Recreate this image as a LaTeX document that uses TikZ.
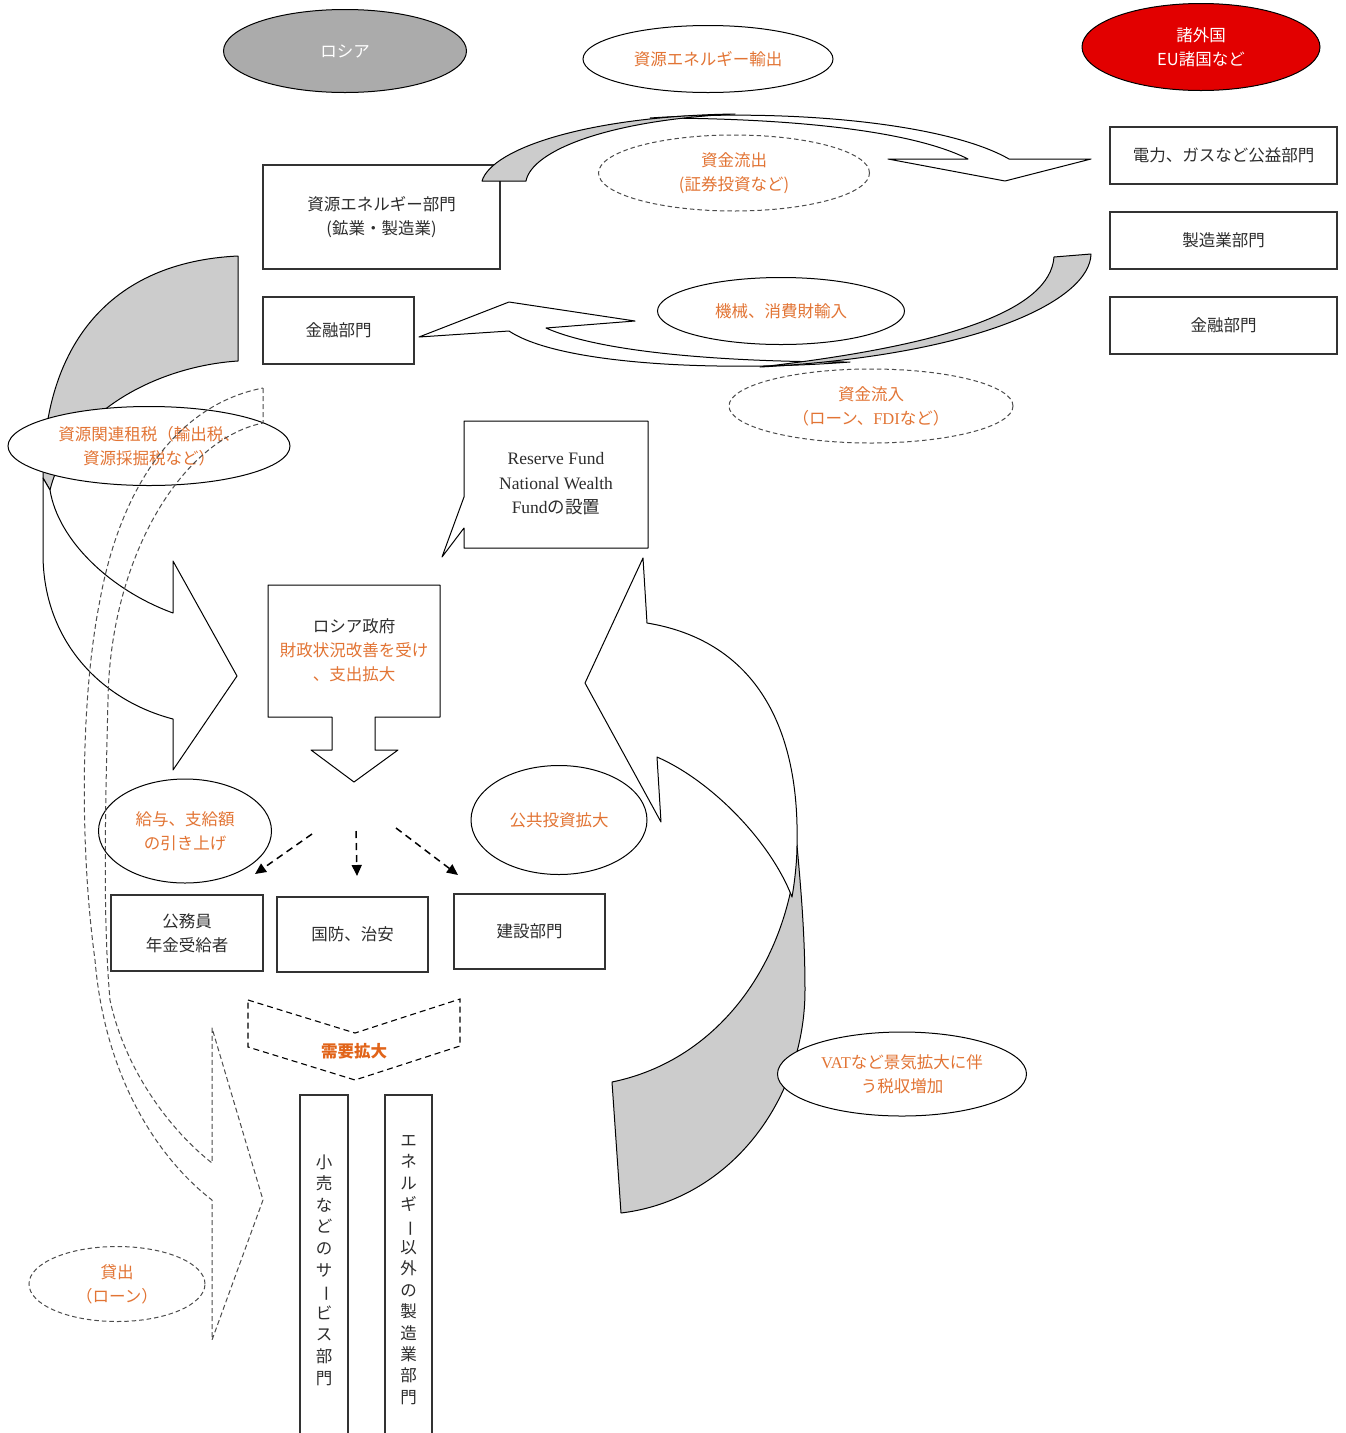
\documentclass[tikz,border=0pt]{standalone}
\usepackage{fontspec}
\usepackage{graphicx}
\setmainfont{Noto Sans CJK JP}
\newfontfamily\lat{Liberation Serif}
\usetikzlibrary{shapes.geometric,arrows.meta}
\definecolor{orng}{RGB}{226,116,52}
\definecolor{orngd}{RGB}{225,100,25}
\definecolor{txt}{RGB}{45,45,45}
\definecolor{gfill}{RGB}{204,204,204}
\definecolor{rusgray}{RGB}{171,171,171}
\definecolor{eured}{RGB}{226,0,0}
\newcommand\vbar{\rotatebox[origin=c]{-90}{ー}}
\begin{document}
\begin{tikzpicture}[x=1pt,y=-1pt,
  every node/.style={font=\fontsize{16.5}{24}\selectfont, text=txt},
  box/.style={draw=black!80, line width=1.1pt, fill=white, inner sep=0pt, align=center},
  ell/.style={ellipse, draw=black, line width=1pt, fill=white, inner sep=0pt, align=center},
  dell/.style={ellipse, draw=black!70, dash pattern=on 4.5pt off 3pt, line width=1pt, inner sep=0pt, align=center},
  ribbon/.style={draw=black, line width=1pt, line join=round},
  grib/.style={ribbon, fill=gfill},
  wrib/.style={ribbon, fill=white},
  dflow/.style={draw=black, line width=1.5pt, dash pattern=on 7pt off 5pt, -{Triangle[length=11pt,width=10pt]}},
  loanarrow/.style={draw=black!70, line width=1pt, dash pattern=on 5pt off 3pt, line join=round}]
\useasboundingbox (0,0) rectangle (1346,1433);
\fill[white] (0,0) rectangle (1346,1433);

% ---------- boxes ----------
\node[box, minimum width=237pt, minimum height=104pt] (res) at (381.5,217) {資源エネルギー部門\\(鉱業・製造業)};
\node[box, minimum width=151pt, minimum height=67pt] (finL) at (338.5,330.5) {金融部門};
\node[box, minimum width=227pt, minimum height=57pt] (util) at (1223.5,155.5) {電力、ガスなど公益部門};
\node[box, minimum width=227pt, minimum height=57pt] (manu) at (1223.5,240.5) {製造業部門};
\node[box, minimum width=227pt, minimum height=57pt] (finR) at (1223.5,325.5) {金融部門};
\node[box, minimum width=152pt, minimum height=76pt] (kou) at (187,933) {公務員\\年金受給者};
\node[box, minimum width=151pt, minimum height=75pt] (kok) at (352.5,934.5) {国防、治安};
\node[box, minimum width=151pt, minimum height=75pt] (ken) at (529.5,931.5) {建設部門};
\node[box, minimum width=48pt, minimum height=350pt, font=\fontsize{16.5}{21.6}\selectfont] (ret) at (324,1270)
  {小\\売\\な\\ど\\の\\サ\\\vbar\\ビ\\ス\\部\\門};
\node[box, minimum width=47pt, minimum height=350pt, font=\fontsize{16.5}{21.4}\selectfont] (ene) at (408.5,1270)
  {エ\\ネ\\ル\\ギ\\\vbar\\以\\外\\の\\製\\造\\業\\部\\門};

% ---------- callouts ----------
\draw[wrib] (464,421) -- (648,421) -- (648,548) -- (464,548) -- (464,528) -- (442,557) -- (464,497) -- cycle;
\node[align=center, font={\lat\fontsize{17.5}{24.5}\selectfont}] (rf) at (556,484) {Reserve Fund\\National Wealth\\Fund{\normalfont の設置}};
\draw[wrib] (268,585) -- (440,585) -- (440,717) -- (375,717) -- (375,750) -- (398,750) -- (354,782) -- (311,750) -- (332,750) -- (332,717) -- (268,717) -- cycle;
\node[align=center] (gov) at (354,650) {ロシア政府\\\textcolor{orng}{財政状況改善を受け}\\\textcolor{orng}{、支出拡大}};

% ---------- top arrow (export) ----------
\draw[wrib] (650,118) .. controls (800,108) and (950,125) .. (1009,159) -- (1091,159) -- (1005,181) -- (888,159) -- (968,159)
  .. controls (915,132) and (800,118) .. (650,118) -- cycle;
\draw[grib] (482,181) .. controls (492,148) and (590,116) .. (735,114) .. controls (610,120) and (532,150) .. (526,181) -- cycle;

% ---------- bottom arrow (import) ----------
\draw[wrib] (419,337) -- (509,302) -- (635,321) -- (546,328) .. controls (600,352) and (720,362) .. (850,362)
  .. controls (720,372) and (560,365) .. (509,331) -- cycle;
\draw[grib] (1054,257) -- (1091,254) .. controls (1090,300) and (980,355) .. (760,367) .. controls (950,345) and (1050,310) .. (1054,257) -- cycle;

% ---------- left big arrow (tax) ----------
\draw[grib] (238,256) -- (238,361) .. controls (160,366) and (70,410) .. (50,490) -- (43,478) .. controls (43,345) and (110,262) .. (238,256) -- cycle;
\draw[wrib] (43,478) -- (43,554) .. controls (43,640) and (100,700) .. (173,719) -- (173,770) -- (237,676) -- (173,561) -- (173,613)
  .. controls (110,590) and (58,540) .. (50,490) -- cycle;

% ---------- right big arrow (VAT) ----------
\draw[grib] (612,1082) -- (621,1213) .. controls (730,1200) and (805,1100) .. (805,990) .. controls (805,930) and (800,880) .. (797,845)
  .. controls (790,960) and (720,1060) .. (612,1082) -- cycle;
\draw[wrib] (647,623) -- (643,558) -- (585,683) -- (661,822) -- (657,757) .. controls (710,780) and (770,840) .. (792,897)
  .. controls (795,880) and (797,860) .. (797,845)
  .. controls (800,720) and (750,640) .. (647,623) -- cycle;

% ---------- ellipses ----------
\node[ell, fill=rusgray, minimum width=243pt, minimum height=83pt, text=white] (rus) at (345,51) {ロシア};
\node[ell, minimum width=250pt, minimum height=67pt, text=orng] (exp) at (708,59) {資源エネルギー輸出};
\node[ell, fill=eured, minimum width=238pt, minimum height=87pt, text=white] (eu) at (1201,47) {諸外国\\EU諸国など};
\node[dell, minimum width=271pt, minimum height=76pt, text=orng] (outf) at (734,173) {資金流出\\(証券投資など)};
\node[ell, minimum width=247pt, minimum height=67pt, text=orng] (imp) at (781,311) {機械、消費財輸入};
\node[dell, minimum width=284pt, minimum height=74pt, text=orng] (inf) at (871,406) {資金流入\\（ローン、{\lat FDI}など）};
\node[ell, minimum width=282pt, minimum height=79pt, text=orng] (tax) at (149,446) {資源関連租税（輸出税、\\資源採掘税など）};
\node[ell, minimum width=173pt, minimum height=104pt, text=orng] (wage) at (185,831) {給与、支給額\\の引き上げ};
\node[ell, minimum width=176pt, minimum height=109pt, text=orng] (pub) at (559,820) {公共投資拡大};
\node[ell, minimum width=249pt, minimum height=84pt, text=orng] (vat) at (902,1074) {{\lat VAT}など景気拡大に伴\\う税収増加};
\node[dell, minimum width=176pt, minimum height=75pt, text=orng] (loan) at (117,1284) {貸出\\（ローン）};

% ---------- loan dashed arrow ----------
\draw[loanarrow] (263,388) -- (263,423)
  .. controls (180,440) and (110,560) .. (108,700)
  .. controls (105,820) and (103,920) .. (110,1000)
  .. controls (125,1070) and (170,1130) .. (212,1163)
  -- (212,1028) -- (263,1200) -- (212,1340) -- (212,1200)
  .. controls (160,1160) and (105,1080) .. (95,960)
  .. controls (80,850) and (80,700) .. (100,600)
  .. controls (120,490) and (175,405) .. (263,388) -- cycle;

% ---------- demand chevron ----------
\draw[line width=1.1pt, dash pattern=on 6pt off 4pt] (248,1000) -- (355,1033) -- (460,999) -- (460,1046) -- (355,1080) -- (248,1047) -- cycle;
\node[text=orngd, font=\fontsize{16.5}{24}\selectfont\bfseries] (dem) at (354,1051) {需要拡大};

% ---------- dashed distribution arrows ----------
\coordinate (d1s) at (312,834); \coordinate (d1e) at (255,874);
\coordinate (d2s) at (356,831); \coordinate (d2e) at (357,876);
\coordinate (d3s) at (396,828); \coordinate (d3e) at (458,875);
\draw[dflow] (d1s) -- (d1e);
\draw[dflow] (d2s) -- (d2e);
\draw[dflow] (d3s) -- (d3e);
\end{tikzpicture}
\end{document}
